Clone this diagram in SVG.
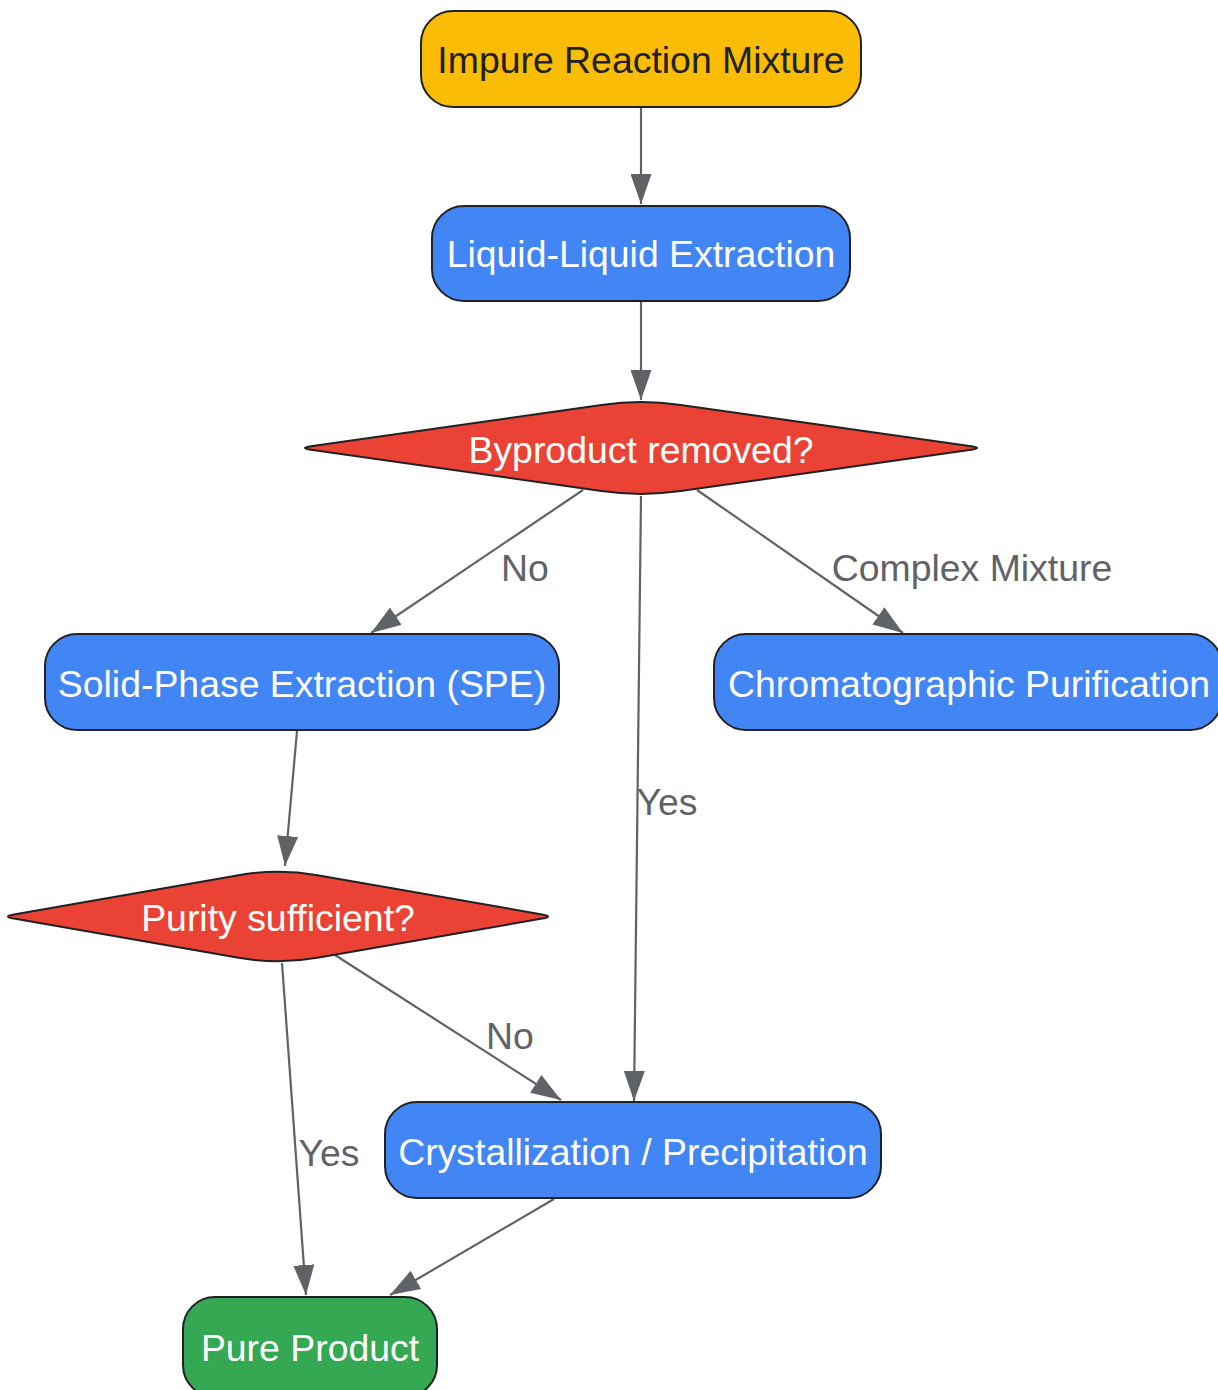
<svg xmlns="http://www.w3.org/2000/svg" width="1218" height="1390" viewBox="0 0 1218 1390">
<defs>
<marker id="arrow" markerUnits="userSpaceOnUse" markerWidth="30" markerHeight="21" refX="30" refY="10.5" orient="auto">
<path d="M0,0 L30,10.5 L0,21 Z" fill="#5f6368"/>
</marker>
<style>
.node rect, .node path { stroke: #202124; stroke-width: 2; }
.lbl { font-family: "Liberation Sans", Arial, sans-serif; font-size: 37.4px; text-anchor: middle; fill: #ffffff; }
.dark { fill: #202124; }
.edge { fill: none; stroke: #5f6368; stroke-width: 2.2; marker-end: url(#arrow); }
.elbl { font-family: "Liberation Sans", Arial, sans-serif; font-size: 37.4px; text-anchor: middle; fill: #5f6368; }
.yellow { fill: #fbbc05; }
.blue { fill: #4285f4; }
.red { fill: #ea4335; }
.green { fill: #34a853; }
</style>
</defs>
<rect width="1218" height="1390" fill="#ffffff"/>
<g id="connectors">
<path class="edge" d="M641,107 L641,204"/>
<path class="edge" d="M641,302 L641,400"/>
<path class="edge" d="M583,490 L371,633"/>
<path class="edge" d="M697,490 L903,633"/>
<path class="edge" d="M641,496 L634,1101"/>
<path class="edge" d="M297,731 L285,866"/>
<path class="edge" d="M335,955 L561,1100"/>
<path class="edge" d="M282,963 L306,1295"/>
<path class="edge" d="M554,1199 L390,1295"/>
<text class="elbl" x="525" y="581">No</text>
<text class="elbl" x="972" y="581">Complex Mixture</text>
<text class="elbl" x="667" y="815">Yes</text>
<text class="elbl" x="510" y="1049">No</text>
<text class="elbl" x="329" y="1166">Yes</text>
</g>
<g id="A" class="node">
<rect class="yellow" x="421" y="11" width="440" height="96" rx="32" ry="32"/>
<text class="lbl dark" x="641" y="73">Impure Reaction Mixture</text>
</g>
<g id="B" class="node">
<rect class="blue" x="432" y="206" width="418" height="95" rx="32" ry="32"/>
<text class="lbl" x="641" y="267">Liquid-Liquid Extraction</text>
</g>
<g id="C" class="node">
<path class="red" d="M601.4,404.94 Q641,399.3 680.6,404.94 L971.12,446.31 Q983,448 971.12,449.69 L680.6,491.06 Q641,496.7 601.4,491.06 L310.88,449.69 Q299,448 310.88,446.31 Z"/>
<text class="lbl" x="641" y="463">Byproduct removed?</text>
</g>
<g id="D" class="node">
<rect class="blue" x="45" y="634" width="514" height="96" rx="32" ry="32"/>
<text class="lbl" x="302" y="697">Solid-Phase Extraction (SPE)</text>
</g>
<g id="E" class="node">
<rect class="blue" x="714" y="634" width="508" height="96" rx="32" ry="32"/>
<text class="lbl" x="969" y="697">Chromatographic Purification</text>
</g>
<g id="F" class="node">
<path class="red" d="M238.6,875.18 Q278,868.3 317.4,875.18 L542.18,914.44 Q554,916.5 542.18,918.56 L317.4,957.82 Q278,964.7 238.6,957.82 L13.82,918.56 Q2,916.5 13.82,914.44 Z"/>
<text class="lbl" x="278" y="931">Purity sufficient?</text>
</g>
<g id="G" class="node">
<rect class="blue" x="385" y="1102" width="496" height="96" rx="32" ry="32"/>
<text class="lbl" x="633" y="1165">Crystallization / Precipitation</text>
</g>
<g id="H" class="node">
<rect class="green" x="183" y="1297" width="254" height="100" rx="32" ry="32"/>
<text class="lbl" x="310" y="1361">Pure Product</text>
</g>
</svg>
